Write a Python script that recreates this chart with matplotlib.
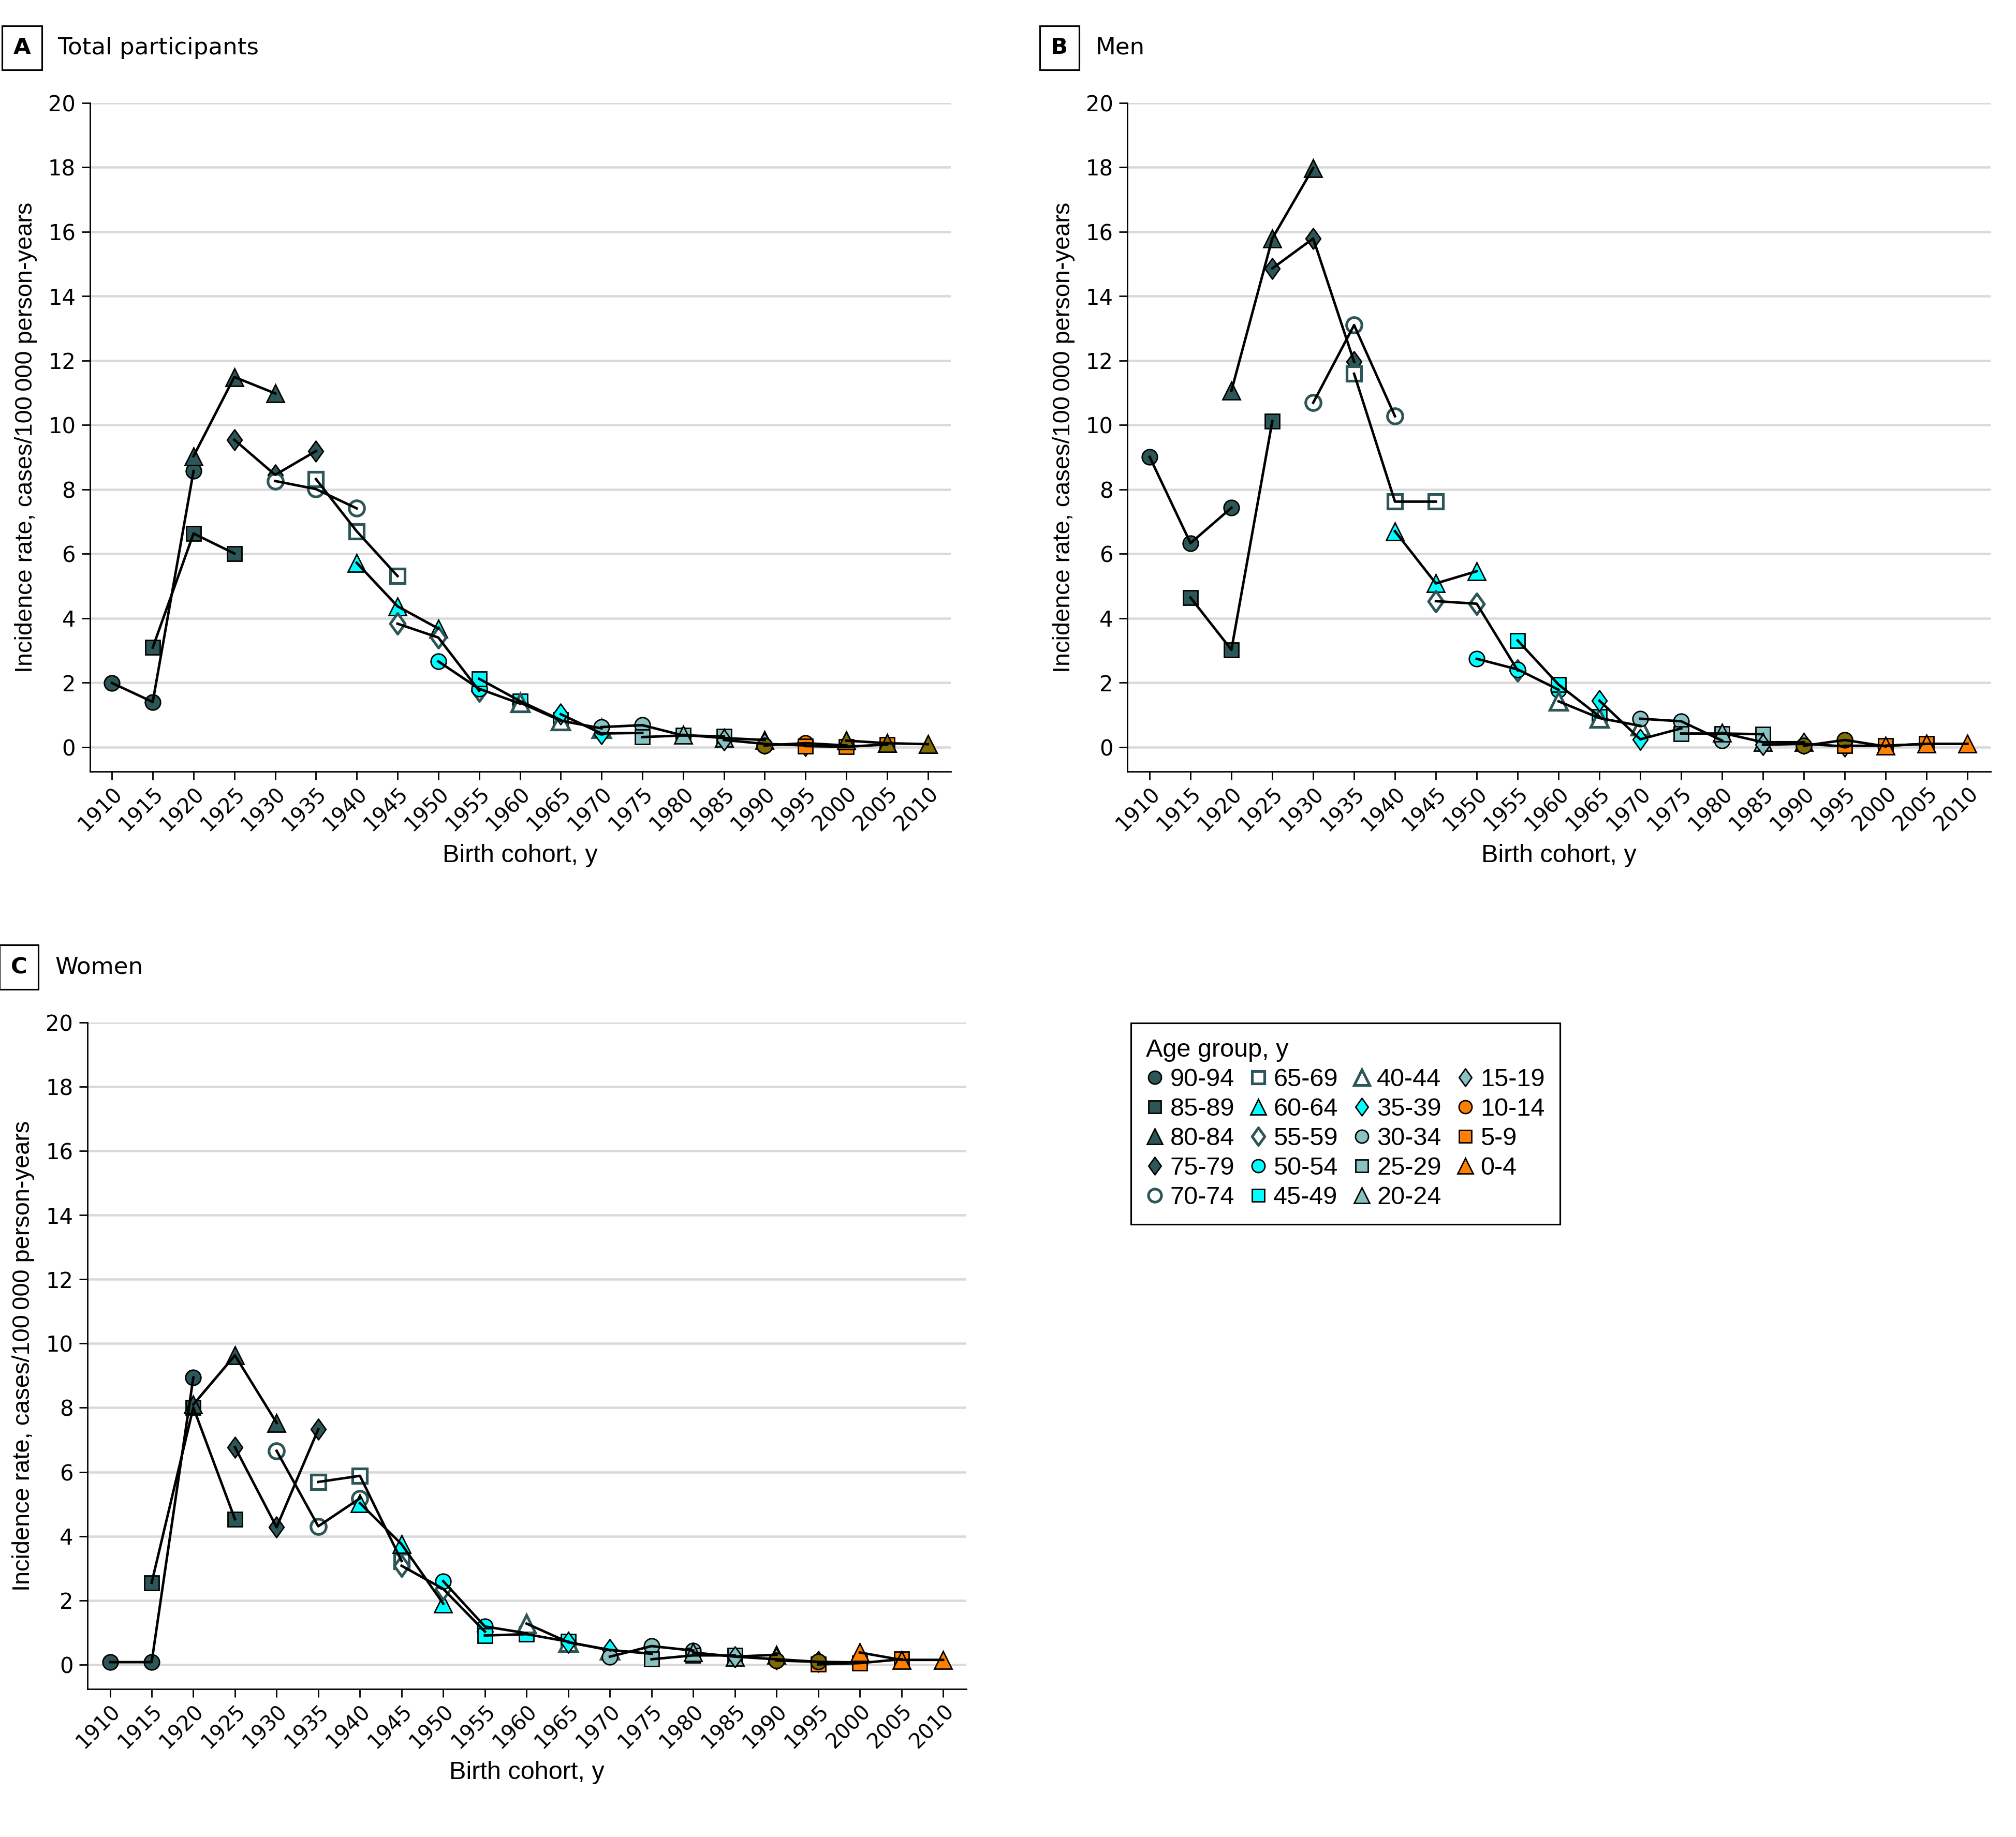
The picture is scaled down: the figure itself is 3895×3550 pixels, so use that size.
import matplotlib
matplotlib.use("Agg")
import matplotlib.pyplot as plt
from matplotlib.lines import Line2D
from matplotlib.path import Path

# birth cohorts (x axis) and age groups, oldest first
cohorts = [1910, 1915, 1920, 1925, 1930, 1935, 1940, 1945, 1950, 1955, 1960,
           1965, 1970, 1975, 1980, 1985, 1990, 1995, 2000, 2005, 2010]
age_groups = ['90-94', '85-89', '80-84', '75-79', '70-74', '65-69', '60-64',
              '55-59', '50-54', '45-49', '40-44', '35-39', '30-34', '25-29',
              '20-24', '15-19', '10-14', '5-9', '0-4']

# incidence per 100 000 person-years, 3 consecutive cohorts per age group
total = [
    [1.99, 1.40, 8.57], [3.09, 6.63, 6.01], [9.03, 11.49, 10.98],
    [9.54, 8.45, 9.19], [8.26, 8.01, 7.41], [8.32, 6.70, 5.31],
    [5.72, 4.37, 3.68], [3.83, 3.40, 1.75], [2.66, 1.81, 1.35],
    [2.12, 1.43, 0.84], [1.38, 0.82, 0.58], [1.02, 0.42, 0.44],
    [0.62, 0.68, 0.36], [0.31, 0.36, 0.33], [0.38, 0.28, 0.22],
    [0.22, 0.10, 0.05], [0.05, 0.12, 0.05], [0.03, 0.01, 0.08],
    [0.20, 0.12, 0.09],
]
men = [
    [9.01, 6.33, 7.43], [4.64, 3.02, 10.12], [11.06, 15.79, 17.98],
    [14.86, 15.79, 11.96], [10.69, 13.10, 10.27], [11.59, 7.62, 7.62],
    [6.70, 5.08, 5.46], [4.53, 4.45, 2.38], [2.74, 2.41, 1.78],
    [3.31, 1.94, 0.95], [1.42, 0.90, 0.66], [1.44, 0.24, 0.58],
    [0.88, 0.80, 0.20], [0.42, 0.42, 0.40], [0.44, 0.15, 0.15],
    [0.07, 0.10, 0.02], [0.04, 0.22, 0.02], [0.04, 0.04, 0.10],
    [0.04, 0.10, 0.10],
]
women = [
    [0.08, 0.08, 8.94], [2.55, 8.01, 4.53], [8.10, 9.63, 7.53],
    [6.77, 4.28, 7.33], [6.66, 4.31, 5.18], [5.69, 5.88, 3.23],
    [5.03, 3.75, 1.90], [3.08, 2.36, 1.03], [2.60, 1.19, 0.98],
    [0.91, 0.95, 0.72], [1.28, 0.70, 0.45], [0.70, 0.46, 0.34],
    [0.25, 0.58, 0.44], [0.17, 0.29, 0.29], [0.38, 0.25, 0.31],
    [0.25, 0.17, 0.09], [0.13, 0.09, 0.07], [0.01, 0.05, 0.17],
    [0.38, 0.15, 0.15],
]

# styling
DARK = '#2c5657'
CYAN = '#00ffff'
LIGHT = '#88c2c2'
ORANGE = '#ff8000'
OLIVE = '#7f6a04'
diamond = Path([(0, 1), (0.72, 0), (0, -1), (-0.72, 0), (0, 1)],
               [1, 2, 2, 2, 79])
shapes = {'o': ('o', 8.5), 's': ('s', 8), '^': ('^', 10), 'D': (diamond, 11.5)}
# (shape, face, edge)
styles = [
    ('o', DARK, 'k'), ('s', DARK, 'k'), ('^', DARK, 'k'), ('D', DARK, 'k'),
    ('o', 'white', DARK), ('s', 'white', DARK), ('^', CYAN, 'k'),
    ('D', 'white', DARK), ('o', CYAN, 'k'), ('s', CYAN, 'k'),
    ('^', 'white', DARK), ('D', CYAN, 'k'), ('o', LIGHT, 'k'),
    ('s', LIGHT, 'k'), ('^', LIGHT, 'k'), ('D', LIGHT, 'k'),
    ('o', ORANGE, 'k'), ('s', ORANGE, 'k'), ('^', ORANGE, 'k'),
]
# points that show up olive in the original
olive = {
    'A': {'10-14': [0], '0-4': [0, 1, 2]},
    'B': {'10-14': [0, 1]},
    'C': {'10-14': [0, 1]},
}

NARROW = ['Liberation Sans', 'DejaVu Sans']
plt.rcParams['font.family'] = ['DejaVu Sans']

fig = plt.figure(figsize=(15.58, 14.2), dpi=250)

panels = [
    ('A', 'Total participants', total, [0.0446, 0.580, 0.427, 0.364]),
    ('B', 'Men', men, [0.5593, 0.580, 0.428, 0.364]),
    ('C', 'Women', women, [0.0434, 0.0805, 0.436, 0.363]),
]

for letter, title, data, rect in panels:
    ax = fig.add_axes(rect)
    for i, grp in enumerate(age_groups):
        xs = cohorts[i:i + 3]
        ys = data[i]
        shp, fc, ec = styles[i]
        m, ms = shapes[shp]
        mew = 1.5 if fc == 'white' else 0.8
        ax.plot(xs, ys, ls='none', marker=m, ms=ms, mfc=fc, mec=ec,
                mew=mew, zorder=3)
        for j in olive[letter].get(grp, []):
            ax.plot(xs[j], ys[j], ls='none', marker=m, ms=ms, mfc=OLIVE,
                    mec='k', mew=0.8, zorder=3.1)
        ax.plot(xs, ys, color='k', lw=1.4, zorder=4)

    ax.set_xlim(1907.3, 2012.8)
    ax.set_ylim(-0.76, 20)
    ax.set_yticks(range(0, 21, 2))
    ax.set_xticks(cohorts)
    ax.set_xticklabels([str(c) for c in cohorts], rotation=45, ha='right',
                       rotation_mode='anchor')
    ax.tick_params(axis='both', labelsize=11.5, length=4.5, width=0.8,
                   direction='out')
    ax.tick_params(axis='x', pad=2)
    ax.tick_params(axis='y', labelsize=12)
    ax.grid(axis='y', color='#d9d9d9', lw=1.3)
    ax.set_axisbelow(True)
    for s in ['top', 'right']:
        ax.spines[s].set_visible(False)
    for s in ['left', 'bottom']:
        ax.spines[s].set_linewidth(0.8)
    ax.set_xlabel('Birth cohort, y', family=NARROW, fontsize=14)
    ax.xaxis.set_label_coords(0.5, -0.108)
    ax.set_ylabel('Incidence rate, cases/100\u2009000 person-years',
                  family=NARROW, fontsize=13.5, labelpad=6)

    x0, y1 = rect[0], rect[1] + rect[3]
    fig.text(x0 - 0.038, y1 + 0.030, letter, fontsize=12.5, fontweight='bold',
             va='center', ha='left',
             bbox=dict(boxstyle='square,pad=0.5', fc='white', ec='k', lw=0.9))
    fig.text(x0 - 0.016, y1 + 0.030, title, fontsize=13, va='center',
             ha='left')

handles = []
for i, grp in enumerate(age_groups):
    shp, fc, ec = styles[i]
    m, ms = shapes[shp]
    handles.append(Line2D([], [], ls='none', marker=m, ms=ms * 0.85, mfc=fc,
                          mec=ec, mew=1.5 if fc == 'white' else 0.8))
leg = fig.legend(handles, age_groups, loc='upper left',
                 bbox_to_anchor=(0.561, 0.443), borderaxespad=0, ncol=4,
                 title='Age group, y', alignment='left', frameon=True,
                 fancybox=False, edgecolor='k', framealpha=1, borderpad=0.6,
                 handlelength=0.7, handletextpad=0.25, columnspacing=0.6,
                 labelspacing=0.25, prop={'family': NARROW, 'size': 14},
                 title_fontproperties={'family': NARROW, 'size': 14})
leg.get_frame().set_linewidth(0.9)

fig.savefig('out.png', dpi=250)
